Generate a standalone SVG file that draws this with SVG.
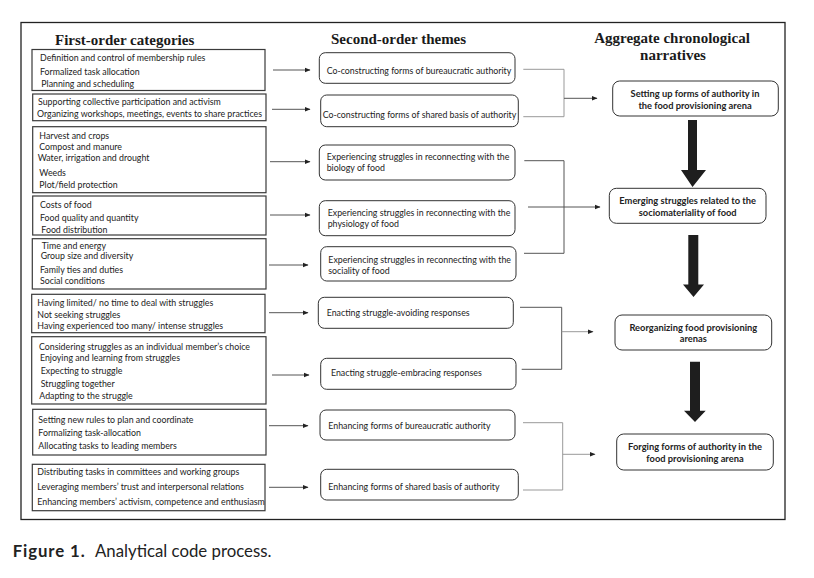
<svg xmlns="http://www.w3.org/2000/svg" width="814" height="578" viewBox="0 0 814 578">
<defs>
<style>
.hdr{font-family:"Liberation Serif","Times New Roman",serif;font-weight:bold;font-size:15px;fill:#1a1a1a}
.t{font-family:Lato,"Open Sans",sans-serif;font-size:8.8px;fill:#222}
.b{font-family:Lato,"Open Sans",sans-serif;font-size:9.3px;font-weight:bold;fill:#222;text-anchor:middle}
.box1{fill:#fff;stroke:#3a3a3a;stroke-width:1.2}
.box2{fill:#fff;stroke:#333;stroke-width:1}
.ln{fill:none;stroke:#555;stroke-width:1}
.lg{fill:none;stroke:#999;stroke-width:1}
.big{fill:#1e1e1e}
.cap{font-family:Lato,"Open Sans",sans-serif;font-size:16.8px;fill:#222}
</style>
<marker id="ah" markerWidth="6" markerHeight="6" refX="5" refY="3" orient="auto" markerUnits="userSpaceOnUse">
<path d="M0,0.8 L5.5,3 L0,5.2 Z" fill="#222"/>
</marker>
</defs>
<rect width="814" height="578" fill="#fff"/>
<rect x="21" y="22.5" width="764" height="497" fill="none" stroke="#222" stroke-width="1.3"/>

<text class="hdr" x="55" y="45">First-order categories</text>
<text class="hdr" x="331" y="44">Second-order themes</text>
<text class="hdr" x="672" y="43" text-anchor="middle">Aggregate chronological</text>
<text class="hdr" x="673" y="60" text-anchor="middle">narratives</text>

<g id="f1"><rect class="box1" x="32" y="49.5" width="233" height="41"/>
<text class="t" x="40" y="61.3">Definition and control of membership rules</text>
<text class="t" x="40" y="75.3">Formalized task allocation</text>
<text class="t" x="41.3" y="87.3">Planning and scheduling</text></g>

<g id="f2"><rect class="box1" x="32.7" y="94" width="233.3" height="26.7"/>
<text class="t" x="38" y="104.7">Supporting collective participation and activism</text>
<text class="t" x="37" y="117">Organizing workshops, meetings, events to share practices</text></g>

<g id="f3"><rect class="box1" x="32.7" y="126.7" width="233.3" height="66"/>
<text class="t" x="39.3" y="138.7">Harvest and crops</text>
<text class="t" x="39.3" y="150.3">Compost and manure</text>
<text class="t" x="37.7" y="161.3">Water, irrigation and drought</text>
<text class="t" x="39.3" y="176.3">Weeds</text>
<text class="t" x="39.3" y="188">Plot/field protection</text></g>

<g id="f4"><rect class="box1" x="32.7" y="196" width="233.3" height="39"/>
<text class="t" x="40" y="208">Costs of food</text>
<text class="t" x="40" y="221">Food quality and quantity</text>
<text class="t" x="41.3" y="233">Food distribution</text></g>

<g id="f5"><rect class="box1" x="32.3" y="238.7" width="233.7" height="50.3"/>
<text class="t" x="41.7" y="248.7">Time and energy</text>
<text class="t" x="40.7" y="259">Group size and diversity</text>
<text class="t" x="40" y="273">Family ties and duties</text>
<text class="t" x="40" y="283.7">Social conditions</text></g>

<g id="f6"><rect class="box1" x="31.7" y="294.3" width="233.3" height="38.4"/>
<text class="t" x="37.3" y="306.3">Having limited/ no time to deal with struggles</text>
<text class="t" x="37.3" y="318.3">Not seeking struggles</text>
<text class="t" x="37.3" y="329">Having experienced too many/ intense struggles</text></g>

<g id="f7"><rect class="box1" x="31.7" y="336.7" width="234.3" height="67.3"/>
<text class="t" x="39" y="349.7">Considering struggles as an individual member’s choice</text>
<text class="t" x="40" y="361.3">Enjoying and learning from struggles</text>
<text class="t" x="40.7" y="374">Expecting to struggle</text>
<text class="t" x="40.7" y="387">Struggling together</text>
<text class="t" x="39.3" y="398.7">Adapting to the struggle</text></g>

<g id="f8"><rect class="box1" x="32.7" y="409.3" width="233.3" height="45.7"/>
<text class="t" x="38.3" y="423">Setting new rules to plan and coordinate</text>
<text class="t" x="38.3" y="435.7">Formalizing task-allocation</text>
<text class="t" x="38.3" y="449">Allocating tasks to leading members</text></g>

<g id="f9"><rect class="box1" x="32.3" y="464.3" width="232.7" height="46.4"/>
<text class="t" x="37.3" y="474.7">Distributing tasks in committees and working groups</text>
<text class="t" x="37.3" y="490">Leveraging members’ trust and interpersonal relations</text>
<text class="t" x="37.3" y="504.7">Enhancing members’ activism, competence and enthusiasm</text></g>

<g id="s1"><rect class="box2" x="319.3" y="52.7" width="195.7" height="30.6" rx="6"/>
<text class="t" x="326.7" y="73.7">Co-constructing  forms of bureaucratic authority</text></g>
<g id="s2"><rect class="box2" x="320.7" y="95" width="197.6" height="31.7" rx="6"/>
<text class="t" x="322.7" y="118">Co-constructing forms of shared basis of authority</text></g>
<g id="s3"><rect class="box2" x="319.3" y="145" width="195.7" height="35" rx="6"/>
<text class="t" x="326.7" y="160.3">Experiencing struggles in reconnecting with the</text>
<text class="t" x="326.7" y="171.3">biology of food</text></g>
<g id="s4"><rect class="box2" x="319.3" y="200.7" width="195.7" height="35" rx="6"/>
<text class="t" x="327.7" y="216.3">Experiencing struggles in reconnecting with the</text>
<text class="t" x="327.7" y="227">physiology of food</text></g>
<g id="s5"><rect class="box2" x="320.7" y="246.7" width="195.3" height="34.3" rx="6"/>
<text class="t" x="328.3" y="263">Experiencing struggles in reconnecting with the</text>
<text class="t" x="328.3" y="273.7">sociality of food</text></g>
<g id="s6"><rect class="box2" x="318.3" y="297.3" width="195" height="31" rx="6"/>
<text class="t" x="326.7" y="316.3">Enacting struggle-avoiding responses</text></g>
<g id="s7"><rect class="box2" x="320.7" y="358.3" width="195.3" height="31" rx="6"/>
<text class="t" x="331" y="375.7">Enacting struggle-embracing responses</text></g>
<g id="s8"><rect class="box2" x="320" y="410" width="195" height="30" rx="6"/>
<text class="t" x="328.3" y="428.7">Enhancing forms of bureaucratic authority</text></g>
<g id="s9"><rect class="box2" x="320.7" y="469.3" width="197.6" height="30.7" rx="6"/>
<text class="t" x="328.3" y="489.7">Enhancing forms of shared basis of authority</text></g>

<g id="a1"><rect class="box2" x="612.7" y="81" width="165.6" height="35" rx="7"/>
<text class="b" x="695" y="97">Setting up forms of authority in</text>
<text class="b" x="695" y="108.5">the food provisioning arena</text></g>
<g id="a2"><rect class="box2" x="609.3" y="188.3" width="156.7" height="35" rx="7"/>
<text class="b" x="687.7" y="203.7">Emerging struggles related to the</text>
<text class="b" x="687.7" y="215.7">sociomateriality of food</text></g>
<g id="a3"><rect class="box2" x="615" y="315" width="156.7" height="35" rx="7"/>
<text class="b" x="693.3" y="330.7">Reorganizing food provisioning</text>
<text class="b" x="693.3" y="342.3">arenas</text></g>
<g id="a4"><rect class="box2" x="616.7" y="434" width="156.6" height="36" rx="7"/>
<text class="b" x="695" y="450.3">Forging forms of authority in the</text>
<text class="b" x="695" y="462">food provisioning arena</text></g>

<g id="connectors">
<line class="ln" x1="273" y1="70" x2="310" y2="70" marker-end="url(#ah)"/>
<line class="ln" x1="272" y1="109.3" x2="310" y2="109.3" marker-end="url(#ah)"/>
<line class="ln" x1="270" y1="161.7" x2="310" y2="161.7" marker-end="url(#ah)"/>
<line class="ln" x1="270" y1="215" x2="310" y2="215" marker-end="url(#ah)"/>
<line class="ln" x1="269" y1="265" x2="308" y2="265" marker-end="url(#ah)"/>
<line class="ln" x1="269" y1="312.7" x2="308" y2="312.7" marker-end="url(#ah)"/>
<line class="ln" x1="272" y1="375" x2="309" y2="375" marker-end="url(#ah)"/>
<line class="ln" x1="269" y1="425.7" x2="308" y2="425.7" marker-end="url(#ah)"/>
<line class="ln" x1="269" y1="487.3" x2="308" y2="487.3" marker-end="url(#ah)"/>

<path class="lg" d="M523.3,69.3 H564 V116.7 H523.3"/>
<line class="ln" x1="564" y1="98.3" x2="597" y2="98.3" marker-end="url(#ah)"/>

<path class="ln" d="M524.3,160.7 H564 V253.3 H524"/>
<line class="ln" x1="528" y1="207" x2="600" y2="207" marker-end="url(#ah)"/>

<path class="ln" d="M520,307.3 H561.7 V369.3 H521.7"/>
<line class="lg" x1="561.7" y1="331.7" x2="593" y2="331.7" marker-end="url(#ah)"/>

<path class="lg" d="M523,422.7 H562.7 V490 H523"/>
<line class="lg" x1="562.7" y1="454.3" x2="595" y2="454.3" marker-end="url(#ah)"/>

<polygon class="big" points="688,120 697,120 697,170 706,170 692.5,187 681,170 688,170"/>
<polygon class="big" points="688.3,235 698.3,235 698.3,284.5 704,284.5 693.5,297 683,284.5 688.3,284.5"/>
<polygon class="big" points="690,361.7 700,361.7 700,410.7 705.7,410.7 695,422 684,410.7 690,410.7"/>
</g>

<text class="cap" x="12.7" y="556.7" font-weight="bold" letter-spacing="0.9">Figure 1.</text>
<text class="cap" x="95" y="556.7">Analytical code process.</text>
</svg>
